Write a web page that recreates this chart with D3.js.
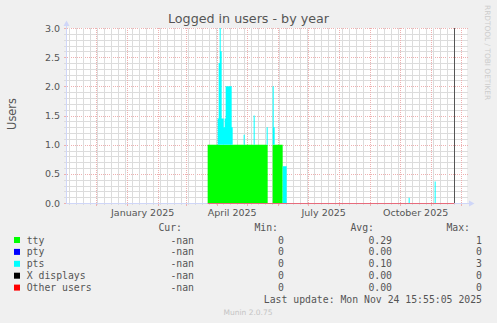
<!DOCTYPE html>
<html>
<head>
<meta charset="utf-8">
<script src="https://cdn.jsdelivr.net/npm/d3@7/dist/d3.min.js"></script>
<style>
    body { margin: 0; background: #f0f0f0; }
    svg { display: block; }
</style>
</head>
<body>
<svg width="497" height="323"></svg>
<script>
/****** DATA ******/

// Each series is a list of change points: the value holds from that day on
var ttyDates  = ["2025-03-23", "2025-05-22", "2025-05-27", "2025-06-06"];
var ttyValues = [1, 0, 1, 0];

var ptyDates  = ["2025-03-23"];
var ptyValues = [0];

var ptsDates  = ["2025-04-02", "2025-04-03", "2025-04-04", "2025-04-05", "2025-04-06",
                 "2025-04-08", "2025-04-09", "2025-04-10", "2025-04-16", "2025-04-17",
                 "2025-04-28", "2025-04-29", "2025-05-08", "2025-05-09", "2025-05-21",
                 "2025-05-22", "2025-05-27", "2025-05-28", "2025-05-29", "2025-06-06",
                 "2025-06-10", "2025-10-10", "2025-10-11", "2025-11-05", "2025-11-06"];
var ptsValues = [0.45, 1.4, 2.0, 1.6, 0.45,
                 0.3, 0.45, 1.0, 0.3, 0,
                 0.17, 0, 0.5, 0, 0.3,
                 0, 1.0, 0.3, 0, 0.63,
                 0, 0.09, 0, 0.37, 0];

var xDates  = ["2025-03-23"];
var xValues = [0];
var otherDates  = ["2025-03-23"];
var otherValues = [0];

var firstData = "2025-03-23";
var lastUpdate = "2025-11-24 15:55:05";

var yTicks = [0, 0.5, 1, 1.5, 2, 2.5, 3];
var monthTickDates = ["2025-01-01", "2025-04-01", "2025-07-01", "2025-10-01"];
var monthTickLabels = ["January 2025", "April 2025", "July 2025", "October 2025"];

var legendNames  = ["tty", "pty", "pts", "X displays", "Other users"];
var legendColors = ["#00ff00", "#0000ff", "#00ffff", "#000000", "#ff0000"];
var curValues = ["-nan", "-nan", "-nan", "-nan", "-nan"];
var minValues = ["0", "0", "0", "0", "0"];
var avgValues = ["0.29", "0.00", "0.10", "0.00", "0.00"];
var maxValues = ["1", "0", "3", "0", "0"];

/****** SETUP ******/

var svg = d3.select("svg");
var plot = {left: 67, right: 467, top: 28, bottom: 203};
var sans = "'DejaVu Sans', sans-serif",
    mono = "'DejaVu Sans Mono', monospace",
    fontColor = "#555555";

var parseDay = d3.timeParse("%Y-%m-%d"),
    parseTime = d3.timeParse("%Y-%m-%d %H:%M:%S");
var now = parseTime(lastUpdate);

var x = d3.scaleTime()
    .domain([new Date(2024, 10, 2, 8), new Date(2025, 11, 7, 8)])
    .range([plot.left, plot.right]);
var y = d3.scaleLinear().domain([0, 3]).range([plot.bottom, plot.top]);

var keys = ["tty", "pty", "pts", "x", "other"];
var series = {
    tty: [ttyDates, ttyValues], pty: [ptyDates, ptyValues], pts: [ptsDates, ptsValues],
    x: [xDates, xValues], other: [otherDates, otherValues]
};

function valueAt(s, d) {
    var v = 0;
    for (var i = 0; i < s[0].length; i++) {
        if (parseDay(s[0][i]) <= d) v = s[1][i];
    }
    return v;
}

// union of change dates, one row per change
var allDates = d3.sort(Array.from(new Set([].concat(ttyDates, ptsDates))).map(parseDay), function(a, b) { return a - b; });
allDates.push(now);
var rows = allDates.map(function(d) {
    var r = {date: d};
    keys.forEach(function(k) { r[k] = valueAt(series[k], d); });
    return r;
});
var stacked = d3.stack().keys(keys)(rows);

/****** BACKGROUND + GRID ******/

svg.append("rect").attr("width", 497).attr("height", 323).attr("fill", "#f0f0f0");
svg.append("rect")
    .attr("x", plot.left).attr("y", plot.top)
    .attr("width", plot.right - plot.left).attr("height", plot.bottom - plot.top)
    .attr("fill", "#ffffff");

var minorColor = "#dcdcdc", majorColor = "#eeb0b0";
var grid = svg.append("g").attr("shape-rendering", "crispEdges");

var majorY = y.ticks(6).map(function(v) { return +v.toFixed(2); });
y.ticks(30).forEach(function(v) {
    var major = majorY.indexOf(+v.toFixed(2)) >= 0;
    var py = Math.round(y(v)) + 0.5;
    grid.append("line")
        .attr("x1", plot.left).attr("x2", plot.right + 1)
        .attr("y1", py).attr("y2", py)
        .attr("stroke", major ? majorColor : minorColor)
        .attr("stroke-dasharray", major ? "1,1" : null);
    grid.append("line")
        .attr("x1", plot.left - 3).attr("x2", plot.left)
        .attr("y1", py).attr("y2", py)
        .attr("stroke", major ? majorColor : minorColor);
});

var months = d3.timeMonth.range(x.domain()[0], x.domain()[1]);
d3.timeMonday.range(x.domain()[0], x.domain()[1]).forEach(function(d) {
    var px = Math.round(x(d)) + 0.5;
    if (months.some(function(m) { return Math.round(x(m)) + 0.5 === px; })) return;
    grid.append("line")
        .attr("x1", px).attr("x2", px)
        .attr("y1", plot.top).attr("y2", plot.bottom)
        .attr("stroke", minorColor);
    grid.append("line")
        .attr("x1", px).attr("x2", px)
        .attr("y1", plot.bottom).attr("y2", plot.bottom + 2)
        .attr("stroke", minorColor);
});
months.forEach(function(d) {
    var px = Math.round(x(d)) + 0.5;
    grid.append("line")
        .attr("x1", px).attr("x2", px)
        .attr("y1", plot.top).attr("y2", plot.bottom)
        .attr("stroke", majorColor).attr("stroke-dasharray", "1,1");
    grid.append("line")
        .attr("x1", px).attr("x2", px)
        .attr("y1", plot.bottom).attr("y2", plot.bottom + 3)
        .attr("stroke", majorColor);
});

/****** AREAS ******/

var area = d3.area()
    .curve(d3.curveStepAfter)
    .x(function(d) { return x(d.data.date); })
    .y0(function(d) { return y(d[0]); })
    .y1(function(d) { return y(d[1]); });

// zero-height layers draw nothing, so skip them
svg.append("g")
    .selectAll("path")
    .data(stacked.filter(function(s) { return d3.max(s, function(d) { return d[1] - d[0]; }) > 0; }))
    .enter().append("path")
    .attr("fill", function(d) { return legendColors[keys.indexOf(d.key)]; })
    .attr("d", area);

/****** AXES ******/

var axisColor = "#cfd6f8";
svg.append("line")
    .attr("x1", plot.left).attr("x2", 470)
    .attr("y1", plot.bottom + 0.5).attr("y2", plot.bottom + 0.5)
    .attr("stroke", axisColor);
svg.append("line")
    .attr("x1", plot.left - 0.5).attr("x2", plot.left - 0.5)
    .attr("y1", plot.bottom + 1).attr("y2", 23)
    .attr("stroke", axisColor);
svg.append("path")
    .attr("d", "M469,200.5L474.5,203.5L469,206.5Z")
    .attr("fill", axisColor);
svg.append("path")
    .attr("d", "M63.5,26L66.5,20.5L69.5,26Z")
    .attr("fill", axisColor);

// zero line for the known data range
svg.append("line")
    .attr("x1", x(parseDay(firstData))).attr("x2", x(now))
    .attr("y1", plot.bottom + 0.5).attr("y2", plot.bottom + 0.5)
    .attr("stroke", "#ff0000").attr("stroke-opacity", 0.5);

// now rule
svg.append("line")
    .attr("x1", Math.round(x(now)) + 0.5).attr("x2", Math.round(x(now)) + 0.5)
    .attr("y1", plot.top).attr("y2", plot.bottom)
    .attr("stroke", "#555555");

var yAxis = svg.append("g")
    .attr("transform", "translate(" + plot.left + ",0)")
    .call(d3.axisLeft(y).tickValues(yTicks).tickSize(0).tickPadding(7).tickFormat(d3.format(".1f")));
yAxis.select(".domain").remove();
yAxis.attr("font-family", sans).attr("font-size", 9.5);
yAxis.selectAll("text").attr("fill", fontColor);

var labelDates = monthTickDates.map(function(s) {
    var d = parseDay(s);
    return new Date((+d + +d3.timeMonth.offset(d, 1)) / 2);
});
var xAxis = svg.append("g")
    .attr("transform", "translate(0," + plot.bottom + ")")
    .call(d3.axisBottom(x).tickValues(labelDates).tickSize(0).tickPadding(6)
        .tickFormat(function(d, i) { return monthTickLabels[i]; }));
xAxis.select(".domain").remove();
xAxis.attr("font-family", sans).attr("font-size", 9.5);
xAxis.selectAll("text").attr("fill", fontColor);

/****** TEXTS ******/

svg.append("text")
    .attr("x", 248.5).attr("y", 23)
    .attr("text-anchor", "middle")
    .attr("font-family", sans).attr("font-size", 12.7)
    .attr("fill", fontColor)
    .text("Logged in users - by year");

svg.append("text")
    .attr("transform", "translate(15.5,114)rotate(-90)")
    .attr("text-anchor", "middle")
    .attr("font-family", sans).attr("font-size", 11.4)
    .attr("fill", fontColor)
    .text("Users");

svg.append("text")
    .attr("transform", "translate(485,5)rotate(90)")
    .attr("font-family", sans).attr("font-size", 7.4)
    .attr("fill", "#cccccc")
    .text("RRDTOOL / TOBI OETIKER");

/****** LEGEND ******/

var legend = svg.append("g")
    .attr("font-family", mono).attr("font-size", 9.8)
    .attr("fill", fontColor);

var headers = ["Cur:", "Min:", "Avg:", "Max:"],
    headerEnds = [182, 278, 374, 470],
    columnEnds = [194, 284, 392, 482],
    columns = [curValues, minValues, avgValues, maxValues];

headers.forEach(function(h, i) {
    legend.append("text").attr("x", headerEnds[i]).attr("y", 231)
        .attr("text-anchor", "end").text(h);
});

legendNames.forEach(function(name, i) {
    var by = 243.5 + i * 11.9;
    legend.append("rect")
        .attr("x", 14).attr("y", by - 6.5)
        .attr("width", 6).attr("height", 6)
        .attr("fill", legendColors[i]);
    legend.append("text").attr("x", 26.7).attr("y", by).text(name);
    columns.forEach(function(col, j) {
        legend.append("text").attr("x", columnEnds[j]).attr("y", by)
            .attr("text-anchor", "end").text(col[i]);
    });
});

legend.append("text").attr("x", 482).attr("y", 303)
    .attr("text-anchor", "end")
    .text("Last update: Mon Nov 24 15:55:05 2025");

svg.append("text")
    .attr("x", 248).attr("y", 315)
    .attr("text-anchor", "middle")
    .attr("font-family", sans).attr("font-size", 7.5)
    .attr("fill", "#c4c4c4")
    .text("Munin 2.0.75");
</script>
</body>
</html>
